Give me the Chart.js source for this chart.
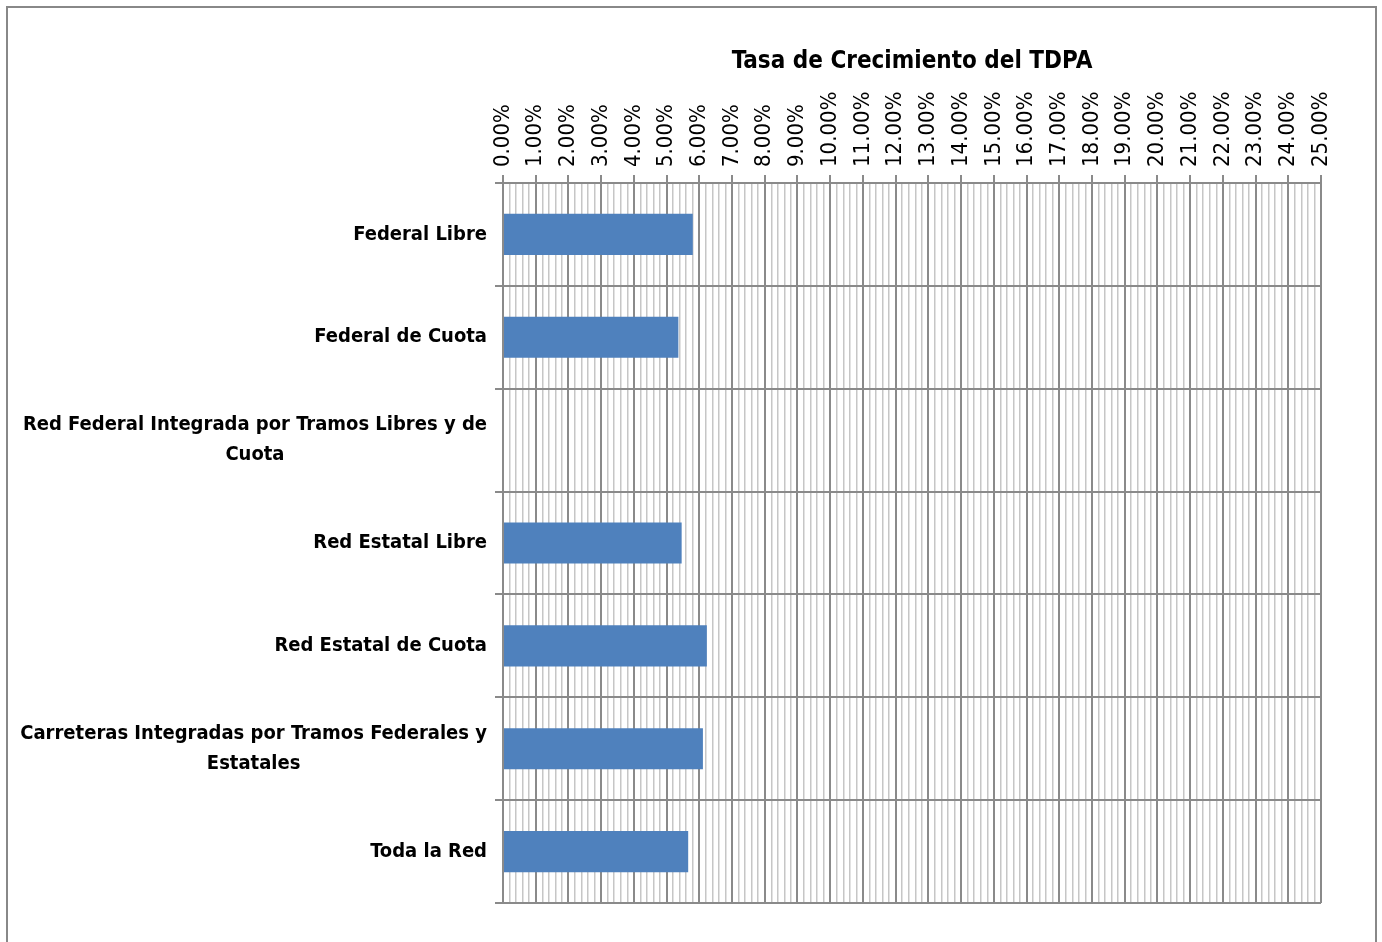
<!DOCTYPE html>
<html>
<head>
<meta charset="utf-8">
<title>Tasa de Crecimiento del TDPA</title>
<script src="https://cdn.jsdelivr.net/npm/chart.js@4.4.0/dist/chart.umd.min.js"></script>
<style>
  html, body { margin: 0; padding: 0; background: #fff; overflow: hidden; }
  #frame { position: absolute; left: 6px; top: 6px; width: 1367px; height: 980px; border: 2px solid #888; }
  #chart { position: absolute; left: 0; top: 0; }
</style>
</head>
<body>
<div id="frame"></div>
<canvas id="chart" width="1382" height="942"></canvas>
<script>
// categories (multi-line ones as arrays)
const categories = [
  'Federal Libre',
  'Federal de Cuota',
  ['Red Federal Integrada por Tramos Libres y de', 'Cuota'],
  'Red Estatal Libre',
  'Red Estatal de Cuota',
  ['Carreteras Integradas por Tramos Federales y', 'Estatales'],
  'Toda la Red'
];
// growth rate in %
const growthRates = [5.80, 5.36, null, 5.46, 6.23, 6.11, 5.66];
const axisMin = 0;
const axisMax = 25;
const minorStep = 0.2;
const chartTitle = 'Tasa de Crecimiento del TDPA';

const FONT = "'DejaVu Sans Condensed', 'Liberation Sans Narrow', sans-serif";
const majorColor = '#8a8a8a';
const minorColor = '#c6c6c6';
const tickFontSize = 22;
const tickLineHeight = 1.2;

const isMajor = (v) => Math.abs(v - Math.round(v)) < 1e-6;

// put the title over the plot area and center the wrapped y labels
const plotHelpers = {
  id: 'plotHelpers',
  afterLayout(chart) {
    chart.titleBlock.left = chart.chartArea.left;
    chart.titleBlock.right = chart.chartArea.right;
  },
  beforeDraw(chart) {
    const ctx = chart.ctx;
    chart.scales.y.getLabelItems().forEach((item) => {
      if (!Array.isArray(item.label) || item._centered) return;
      ctx.save();
      ctx.font = item.font.string;
      const w = Math.max(...item.label.map((l) => ctx.measureText(l).width));
      ctx.restore();
      item.options.translation[0] -= w / 2;
      item.options.textAlign = 'center';
      item._centered = true;
    });
  }
};

const ctx = document.getElementById('chart').getContext('2d');
new Chart(ctx, {
  type: 'bar',
  data: {
    labels: categories,
    datasets: [{
      data: growthRates,
      backgroundColor: '#4f81bd',
      borderWidth: 0,
      barPercentage: 0.4,
      categoryPercentage: 1
    }]
  },
  options: {
    indexAxis: 'y',
    responsive: false,
    animation: false,
    layout: { padding: { left: 0, right: 61, top: 0, bottom: 39 } },
    scales: {
      x: {
        position: 'top',
        min: axisMin,
        max: axisMax,
        afterFit: (scale) => { scale.height = 183 - 76.4; },
        ticks: {
          stepSize: minorStep,
          autoSkip: false,
          minRotation: 90,
          maxRotation: 90,
          padding: 8,
          // rotated top labels are drawn one line-height to the left
          labelOffset: tickFontSize * tickLineHeight,
          color: '#000',
          font: { family: FONT, size: tickFontSize, lineHeight: tickLineHeight },
          callback: (v) => isMajor(v) ? Number(v).toFixed(2) + '%' : ''
        },
        grid: {
          color: (c) => isMajor(c.tick.value) ? majorColor : minorColor,
          lineWidth: (c) => isMajor(c.tick.value) ? 2 : 1.5,
          tickColor: (c) => isMajor(c.tick.value) ? majorColor : 'rgba(0,0,0,0)',
          tickLength: 8
        },
        border: { color: majorColor, width: 2 }
      },
      y: {
        afterFit: (scale) => { scale.width = 503; },
        ticks: {
          padding: 8,
          color: '#000',
          font: { family: FONT, size: 20, weight: 'bold', lineHeight: 1.5 }
        },
        grid: {
          color: majorColor,
          tickColor: majorColor,
          lineWidth: 2,
          tickLength: 8,
          offset: true
        },
        border: { color: majorColor, width: 2 }
      }
    },
    plugins: {
      legend: { display: false },
      tooltip: { enabled: false },
      title: {
        display: true,
        text: chartTitle,
        color: '#000',
        font: { family: FONT, size: 24, weight: 'bold', lineHeight: 1.2 },
        padding: { top: 47.6, bottom: 0 }
      }
    }
  },
  plugins: [plotHelpers]
});
</script>
</body>
</html>
